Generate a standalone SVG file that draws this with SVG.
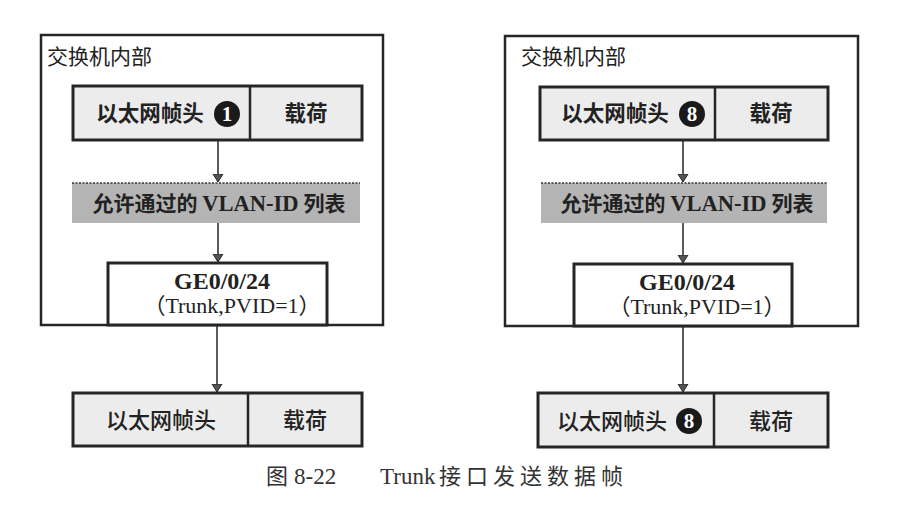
<svg xmlns="http://www.w3.org/2000/svg" width="902" height="506" viewBox="0 0 902 506">
<style>
.frame{fill:#ffffff;stroke:#262626;stroke-width:2.5}
.hdr{fill:#ececec;stroke:#262626;stroke-width:3}
.div{stroke:#262626;stroke-width:2.5}
.filt{fill:#b4b4b4;stroke:none}
.dash{stroke:#333;stroke-width:1.5;stroke-dasharray:2 1.5}
.port{fill:#ffffff;stroke:#262626;stroke-width:3}
.cjk{font-family:"Noto Sans CJK SC","Liberation Sans",sans-serif;fill:#222}
.b{font-weight:bold}
.ser{font-family:"Liberation Serif","Noto Sans CJK SC",serif;fill:#222}
.badge{fill:#1a1a1a}
.bt{font-family:"Liberation Serif",serif;font-weight:bold;fill:#fff;font-size:21px}
.cap{font-family:"Noto Sans CJK SC",sans-serif;fill:#333;font-size:22px}
.capl{font-family:"Liberation Serif",serif;fill:#333;font-size:23px}
.conn line{stroke:#262626;stroke-width:1.5}
</style>
<defs>
<marker id="ah" viewBox="0 0 8 16" refX="8" refY="8" markerWidth="8" markerHeight="16" markerUnits="userSpaceOnUse" orient="auto">
<path d="M0,3 L8,8 L0,13 Z" fill="#555" stroke="#262626" stroke-width="1"/>
</marker>
</defs>

<!-- Left panel -->
<g id="left-switch">
<rect class="frame" x="41" y="35" width="342" height="290"/>
<text class="cjk" x="47" y="64" font-size="21">交换机内部</text>
</g>
<g id="left-frame-in">
<rect class="hdr" x="73" y="86" width="289" height="54"/>
<line class="div" x1="250" y1="86" x2="250" y2="140"/>
<text class="cjk b" x="150" y="121" font-size="21.5" text-anchor="middle">以太网帧头</text>
<circle class="badge" cx="227" cy="114" r="13"/>
<text class="bt" x="227" y="121" text-anchor="middle">1</text>
<text class="cjk b" x="306" y="121" font-size="21.5" text-anchor="middle">载荷</text>
</g>
<g id="left-filter">
<rect class="filt" x="72" y="183" width="288" height="40"/>
<line class="dash" x1="72" y1="183" x2="360" y2="183"/>
<text class="cjk b" x="219" y="211" font-size="21" text-anchor="middle">允许通过的 <tspan font-family="Liberation Serif" font-size="22.5">VLAN-ID</tspan> 列表</text>
</g>
<g id="left-port">
<rect class="port" x="108" y="263" width="219" height="62"/>
<text class="ser b" x="222" y="289" font-size="24" text-anchor="middle">GE0/0/24</text>
<text class="ser" x="232" y="313" font-size="22" text-anchor="middle">（Trunk,PVID=1）</text>
</g>
<g id="left-frame-out">
<rect class="hdr" x="73" y="393" width="289" height="53"/>
<line class="div" x1="248" y1="393" x2="248" y2="446"/>
<text class="cjk" x="161" y="428" font-size="22" text-anchor="middle" font-weight="500">以太网帧头</text>
<text class="cjk" x="305" y="428" font-size="22" text-anchor="middle" font-weight="500">载荷</text>
</g>

<!-- Right panel -->
<g id="right-switch">
<rect class="frame" x="505" y="36" width="353" height="290"/>
<text class="cjk" x="521" y="64" font-size="21">交换机内部</text>
</g>
<g id="right-frame-in">
<rect class="hdr" x="540" y="87" width="288" height="53"/>
<line class="div" x1="715" y1="87" x2="715" y2="140"/>
<text class="cjk b" x="615" y="121" font-size="21.5" text-anchor="middle">以太网帧头</text>
<circle class="badge" cx="692" cy="114" r="13"/>
<text class="bt" x="692" y="121" text-anchor="middle">8</text>
<text class="cjk b" x="771" y="121" font-size="21.5" text-anchor="middle">载荷</text>
</g>
<g id="right-filter">
<rect class="filt" x="541" y="183" width="286" height="40"/>
<line class="dash" x1="541" y1="183" x2="827" y2="183"/>
<text class="cjk b" x="687" y="211" font-size="21" text-anchor="middle">允许通过的 <tspan font-family="Liberation Serif" font-size="22.5">VLAN-ID</tspan> 列表</text>
</g>
<g id="right-port">
<rect class="port" x="574" y="264" width="218" height="62"/>
<text class="ser b" x="687" y="290" font-size="24" text-anchor="middle">GE0/0/24</text>
<text class="ser" x="697" y="314" font-size="22" text-anchor="middle">（Trunk,PVID=1）</text>
</g>
<g id="right-frame-out">
<rect class="hdr" x="538" y="393" width="290" height="54"/>
<line class="div" x1="714" y1="393" x2="714" y2="447"/>
<text class="cjk" x="612" y="429" font-size="22" text-anchor="middle" font-weight="500">以太网帧头</text>
<circle class="badge" cx="689" cy="421" r="13"/>
<text class="bt" x="689" y="428" text-anchor="middle">8</text>
<text class="cjk" x="771" y="429" font-size="22" text-anchor="middle" font-weight="500">载荷</text>
</g>

<g id="connectors" class="conn">
<line x1="218" y1="141" x2="218" y2="182" marker-end="url(#ah)"/>
<line x1="218" y1="223" x2="218" y2="262" marker-end="url(#ah)"/>
<line x1="217" y1="326" x2="217" y2="392" marker-end="url(#ah)"/>
<line x1="683" y1="141" x2="683" y2="182" marker-end="url(#ah)"/>
<line x1="683" y1="223" x2="683" y2="263" marker-end="url(#ah)"/>
<line x1="683" y1="327" x2="683" y2="392" marker-end="url(#ah)"/>
</g>

<g id="caption">
<text class="cap" x="266" y="484">图</text>
<text class="capl" x="294" y="484">8-22</text>
<text class="capl" x="380" y="484">Trunk</text>
<text class="cap" x="439" y="484" letter-spacing="5">接口发送数据帧</text>
</g>
</svg>
